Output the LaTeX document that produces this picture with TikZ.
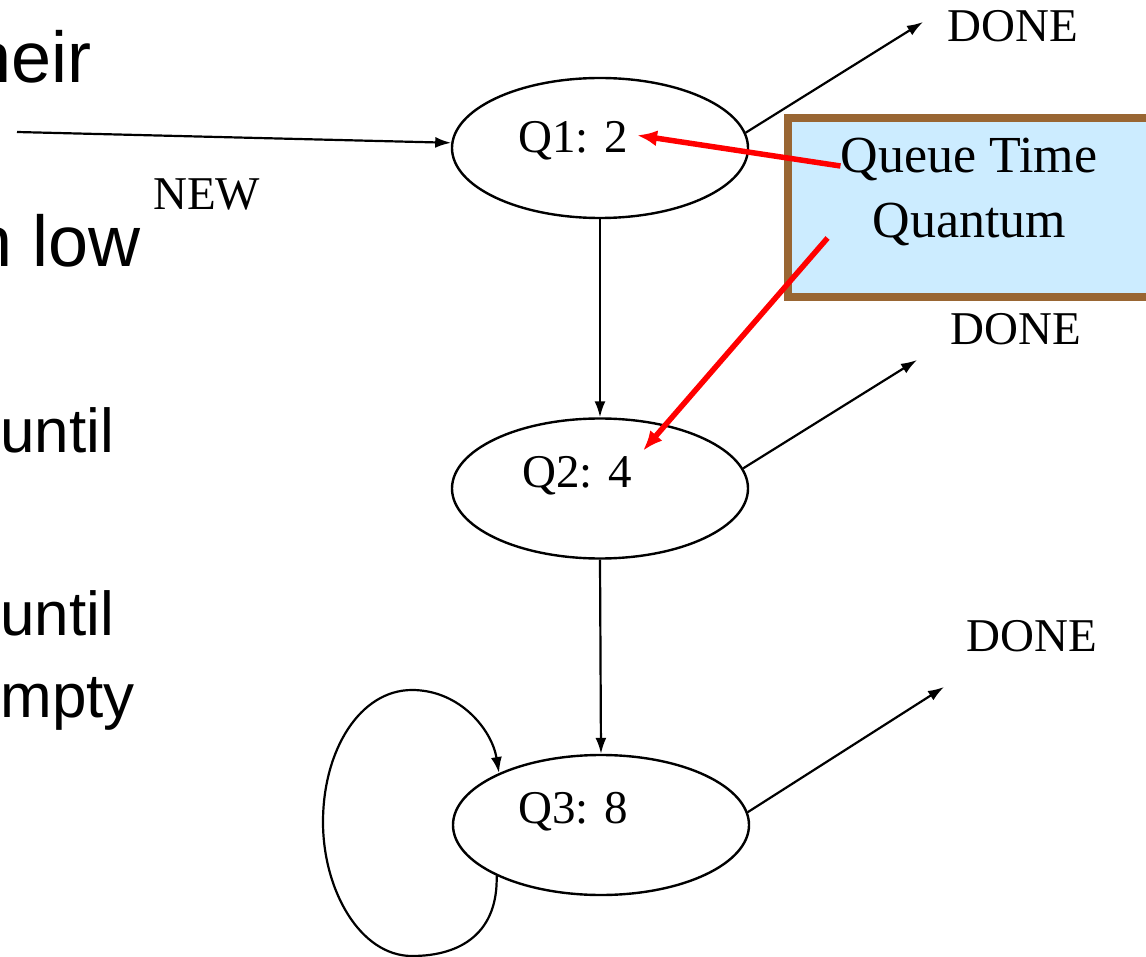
\documentclass[tikz,border=0pt]{standalone}
\usepackage{fontspec}
\setmainfont{Liberation Serif}
\newfontfamily\slidesans{Liberation Sans}
\usetikzlibrary{arrows.meta,shapes.geometric}
\definecolor{boxbrown}{RGB}{153,102,51}
\definecolor{boxblue}{RGB}{204,236,255}
\begin{document}
\begin{tikzpicture}[x=1pt,y=-1pt,
  state/.style={draw,ellipse,line width=2.4pt,minimum width=296pt,minimum height=140pt,inner sep=0pt},
  lbl/.style={inner sep=0pt,font=\fontsize{47}{50}\selectfont,anchor=base west},
  qlbl/.style={inner sep=0pt,font=\fontsize{52}{56}\selectfont,anchor=base},
  bulletA/.style={inner sep=0pt,font=\slidesans\fontsize{72}{80}\selectfont,anchor=base east},
  bulletB/.style={inner sep=0pt,font=\slidesans\fontsize{62}{70}\selectfont,anchor=base east},
  flow/.style={line width=2.2pt,-{Latex[length=16pt,width=11pt]}},
  hint/.style={draw=red,line width=5.5pt,-{Latex[length=20pt,width=16pt]}}]
\clip (0,0) rectangle (1146,957);
% left slide text (cut off at the left edge, as in the reference)
\node[bulletA] (t1) at (92,83) {their};
\node[bulletA] (t2) at (141,267) {in low};
\node[bulletB] (t3) at (114,452) {until};
\node[bulletB] (t4) at (114,635) {until};
\node[bulletB] (t5) at (135,717) {empty};
% states
\node[state] (q1) at (600,148) {};
\node[state] (q2) at (600,488.5) {};
\node[state] (q3) at (601,825) {};
\node[lbl] (q1t) at (518,153) {Q1: 2};
\node[lbl] (q2t) at (522,487) {Q2: 4};
\node[lbl] (q3t) at (518,823) {Q3: 8};
% labels
\node[lbl] (new) at (153,210) {NEW};
\node[lbl] (d1) at (947,42) {DONE};
\node[lbl] (d2) at (950,345) {DONE};
\node[lbl] (d3) at (966,651) {DONE};
\coordinate (in0) at (17,132);
\coordinate (d1tip) at (923,22);
\coordinate (d2tip) at (917,360);
\coordinate (d3tip) at (944,687);
% connectors
\draw[flow] (in0) -- (q1.178);
\draw[flow] (q1.south) -- (q2.north);
\draw[flow] (q2.south) -- (q3.north);
\draw[flow] (q1.6) -- (d1tip);
\draw[flow] (q2.8) -- (d2tip);
\draw[flow] (q3.5) -- (d3tip);
\draw[flow] (q3.206) .. controls (498,932) and (462,956) .. (412,956)
  .. controls (360,956) and (323,890) .. (323,822)
  .. controls (323,750) and (360,690) .. (412,690)
  .. controls (460,690) and (492,730) .. (q3.153);
% quantum box
\node[draw=boxbrown,fill=boxblue,line width=8pt,rectangle,inner sep=0pt,
  minimum width=390pt,minimum height=179pt,anchor=north west] (box) at (784,114) {};
\node[qlbl] (qt) at (969,173) {Queue Time};
\node[qlbl] (qn) at (969.5,238) {Quantum};
\draw[hint] ([yshift=-6pt]qt.west) -- ([xshift=9pt,yshift=6pt]q1t.east);
\draw[hint] ([xshift=-45pt]qn.base west) -- ([xshift=11pt,yshift=5pt]q2t.north east);
\end{tikzpicture}
\end{document}
